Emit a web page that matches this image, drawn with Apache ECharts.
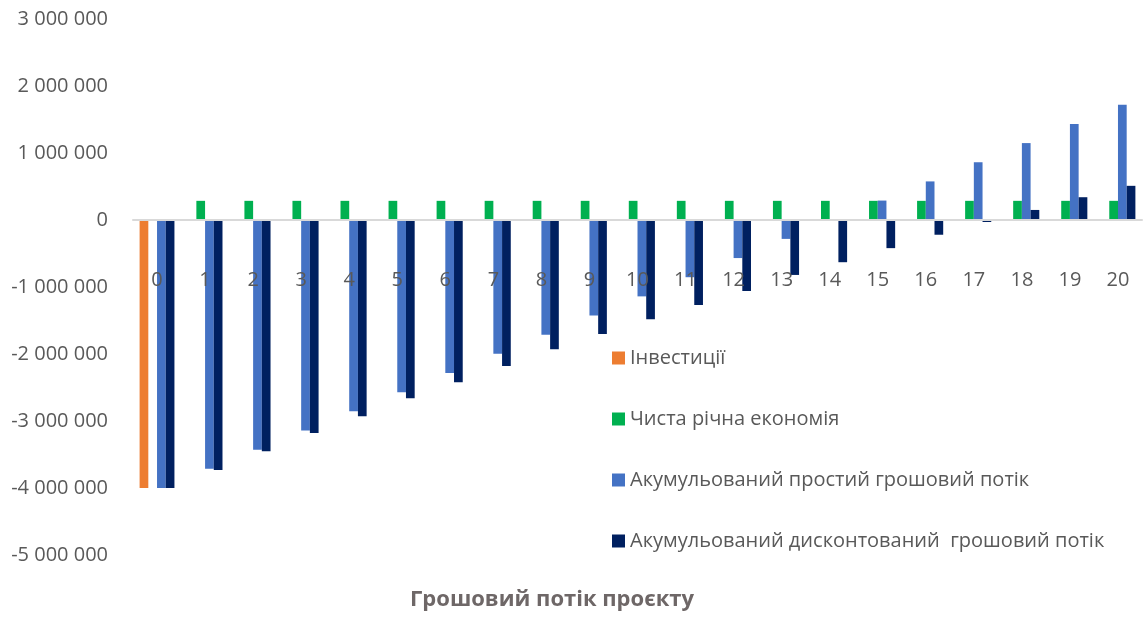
<!DOCTYPE html>
<html>
<head>
<meta charset="utf-8">
<script src="https://cdn.jsdelivr.net/npm/echarts@6/dist/echarts.min.js"></script>
<style>
  html, body { margin: 0; padding: 0; background: #ffffff; }
  #chart { width: 1144px; height: 619px; }
</style>
</head>
<body>
<div id="chart"></div>
<script>
// Project years
const years = ['0','1','2','3','4','5','6','7','8','9','10','11','12','13','14','15','16','17','18','19','20'];

// Initial investment (year 0 only)
const investments = [-4000000, null, null, null, null, null, null, null, null, null, null,
                     null, null, null, null, null, null, null, null, null, null];

// Net annual savings
const netSavings = [null, 286000, 286000, 286000, 286000, 286000, 286000, 286000, 286000, 286000, 286000,
                    286000, 286000, 286000, 286000, 286000, 286000, 286000, 286000, 286000, 286000];

// Cumulative simple cash flow
const cumulativeSimple = [-4000000, -3714000, -3428000, -3142000, -2856000, -2570000, -2284000,
                          -1998000, -1712000, -1426000, -1140000, -854000, -568000, -282000,
                          4000, 290000, 576000, 862000, 1148000, 1434000, 1720000];

// Cumulative discounted cash flow
const cumulativeDiscounted = [-4000000, -3730000, -3450000, -3180000, -2930000, -2660000, -2420000,
                              -2180000, -1930000, -1700000, -1480000, -1270000, -1060000, -820000,
                              -630000, -420000, -220000, -30000, 150000, 340000, 510000];

// Y axis range and step
const yMin = -5000000;
const yMax = 3000000;
const yStep = 1000000;

const seriesNames = [
  'Інвестиції',
  'Чиста річна економія',
  'Акумульований простий грошовий потік',
  'Акумульований дисконтований  грошовий потік'
];

const textFont = '"Open Sans", "Liberation Sans", Arial, sans-serif';

function spaced(v) {
  const neg = v < 0;
  const s = String(Math.abs(v)).replace(/\B(?=(\d{3})+(?!\d))/g, ' ');
  return (neg ? '-' : '') + s;
}

// plot area geometry
const gridTop = 19;
const gridHeight = 536;
const gridBottom = 619 - gridTop - gridHeight;
// distance from the bottom of the plot to the zero line
const zeroOffset = gridHeight * (0 - yMin) / (yMax - yMin);

const chart = echarts.init(document.getElementById('chart'), null, { renderer: 'canvas' });

chart.setOption({
  animation: false,
  backgroundColor: '#ffffff',
  title: {
    text: 'Грошовий потік проєкту',
    left: 410,
    top: 589,
    padding: 0,
    textStyle: {
      fontFamily: textFont,
      fontSize: 22,
      fontWeight: 'bold',
      color: '#6e6767'
    }
  },
  legend: {
    orient: 'vertical',
    left: 612,
    top: 348,
    padding: 0,
    itemWidth: 13,
    itemHeight: 13,
    itemGap: 41,
    icon: 'rect',
    data: seriesNames,
    textStyle: {
      fontFamily: textFont,
      fontSize: 20,
      color: '#595959'
    }
  },
  grid: {
    left: 133,
    right: 2,
    top: gridTop,
    bottom: gridBottom,
    containLabel: false
  },
  xAxis: {
    type: 'category',
    data: years,
    position: 'bottom',
    offset: -zeroOffset,
    z: 5,
    axisLine: { onZero: false, lineStyle: { color: '#d9d9d9', width: 2 } },
    axisTick: { show: false },
    axisLabel: {
      margin: 50,
      fontFamily: textFont,
      fontSize: 20,
      color: '#595959'
    },
    splitLine: { show: false }
  },
  yAxis: {
    type: 'value',
    min: yMin,
    max: yMax,
    interval: yStep,
    axisLine: { show: false },
    axisTick: { show: false },
    splitLine: { show: false },
    axisLabel: {
      margin: 25,
      fontFamily: textFont,
      fontSize: 20,
      color: '#595959',
      formatter: spaced
    }
  },
  series: [
    {
      name: seriesNames[0], type: 'bar', data: investments,
      itemStyle: { color: '#ed7d31' },
      barGap: '0%', barCategoryGap: '27.5%'
    },
    {
      name: seriesNames[1], type: 'bar', data: netSavings,
      itemStyle: { color: '#00b050' },
      barGap: '0%', barCategoryGap: '27.5%'
    },
    {
      name: seriesNames[2], type: 'bar', data: cumulativeSimple,
      itemStyle: { color: '#4472c4' },
      barGap: '0%', barCategoryGap: '27.5%'
    },
    {
      name: seriesNames[3], type: 'bar', data: cumulativeDiscounted,
      itemStyle: { color: '#002060' },
      barGap: '0%', barCategoryGap: '27.5%'
    }
  ]
});
</script>
</body>
</html>
